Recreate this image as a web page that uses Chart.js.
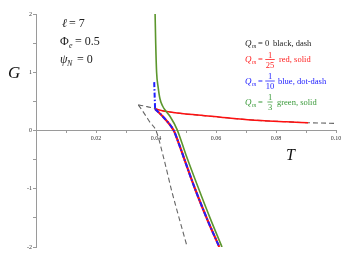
<!DOCTYPE html>
<html>
<head>
<meta charset="utf-8">
<script src="https://cdn.jsdelivr.net/npm/chart.js@4/dist/chart.umd.min.js"></script>
<style>
  html, body { margin: 0; padding: 0; background: #fff; }
  #wrap { width: 345px; height: 255px; }
</style>
</head>
<body>
<div id="wrap"><canvas id="gibbsChart"></canvas></div>
<script>
// Q_m = 0 (black, dash) - two branches meeting at the cusp
var T_black_up = [0.0341, 0.0370, 0.0397, 0.0430, 0.0470, 0.0550, 0.0650, 0.0750, 0.0835, 0.0907, 0.1000];
var G_black_up = [0.44, 0.41, 0.375, 0.33, 0.30, 0.26, 0.21, 0.17, 0.15, 0.134, 0.122];
var T_black_low = [0.0341, 0.0352, 0.0365, 0.0380, 0.0400, 0.0427, 0.0452, 0.0478, 0.0504];
var G_black_low = [0.44, 0.36, 0.26, 0.14, 0.0, -0.5, -1.03, -1.52, -2.0];

// Q_m = 1/25 (red, solid)
var T_red_up = [0.0397, 0.0430, 0.0470, 0.0550, 0.0650, 0.0750, 0.0835, 0.0907];
var G_red_up = [0.37, 0.33, 0.30, 0.26, 0.21, 0.17, 0.15, 0.134];
var T_red_low = [0.0397, 0.0421, 0.0443, 0.0459, 0.0478, 0.0495, 0.0530, 0.0572, 0.0611];
var G_red_low = [0.37, 0.25, 0.12, 0.0, -0.25, -0.5, -1.0, -1.54, -2.0];

// Q_m = 1/10 (blue, dot-dash)
var T_blue_top = [0.0394, 0.0397];
var G_blue_top = [0.83, 0.37];
var T_blue_low = [0.0397, 0.0421, 0.0443, 0.0459, 0.0478, 0.0495, 0.0530, 0.0572, 0.0611];
var G_blue_low = [0.37, 0.25, 0.12, 0.0, -0.25, -0.5, -1.0, -1.54, -2.0];

// Q_m = 1/3 (green, solid)
var T_green = [0.0397, 0.0399, 0.0402, 0.0407, 0.0413, 0.0422, 0.0432, 0.0447, 0.0470, 0.0500, 0.0540, 0.0580, 0.0620];
var G_green = [2.0, 1.5, 1.0, 0.75, 0.55, 0.42, 0.34, 0.24, 0.02, -0.42, -0.97, -1.5, -2.0];

function pts(xs, ys) {
  return xs.map(function (x, i) { return { x: x, y: ys[i] }; });
}

function line(data, color, width, dash, smooth) {
  return {
    data: data,
    showLine: true,
    borderColor: color,
    borderWidth: width,
    borderDash: dash,
    pointRadius: 0,
    cubicInterpolationMode: smooth ? 'monotone' : 'default',
    tension: 0,
    fill: false
  };
}

// draw a row of text pieces: [text, x, y, font, color]
function put(ctx, pieces) {
  pieces.forEach(function (p) {
    ctx.font = p[3];
    ctx.fillStyle = p[4];
    ctx.fillText(p[0], p[1], p[2]);
  });
}

function frac(ctx, num, den, cx, yNum, yBar, yDen, color) {
  ctx.font = '8.5px "Liberation Serif"';
  ctx.fillStyle = color;
  ctx.textAlign = 'center';
  ctx.fillText(num, cx, yNum);
  ctx.fillText(den, cx, yDen);
  ctx.textAlign = 'left';
  var w = Math.max(ctx.measureText(num).width, ctx.measureText(den).width) + 1;
  ctx.strokeStyle = color;
  ctx.lineWidth = 0.8;
  ctx.beginPath();
  ctx.moveTo(cx - w / 2, yBar);
  ctx.lineTo(cx + w / 2, yBar);
  ctx.stroke();
}

var annotate = {
  id: 'annotate',
  afterDraw: function (chart) {
    var ctx = chart.ctx;
    ctx.save();
    ctx.textAlign = 'left';
    ctx.textBaseline = 'alphabetic';
    var f12 = '12px "Liberation Serif"';
    var i12 = 'italic 12px "Liberation Serif"';
    var i8 = 'italic 8px "Liberation Serif"';
    var k = '#222';

    // parameters
    put(ctx, [
      ['\u2113', 62, 27, i12, k], ['= 7', 69, 27, f12, k],
      ['\u03A6', 60, 45, f12, k], ['e', 69, 48, i8, k], ['= 0.5', 75, 45, f12, k],
      ['\u03C8', 60, 63, i12, k], ['N', 67, 66, i8, k], ['= 0', 77, 63, f12, k]
    ]);

    // axis titles
    put(ctx, [
      ['G', 8, 78, 'italic 17px "Liberation Serif"', '#111'],
      ['T', 286, 160, 'italic 16px "Liberation Serif"', '#111']
    ]);

    // legend
    var q = 'italic 9px "Liberation Serif"';
    var sub = 'italic 6px "Liberation Serif"';
    var t = '8.5px "Liberation Serif"';
    var cols = ['#222222', '#ff2020', '#2020ff', '#3a9a3a'];
    put(ctx, [
      ['Q', 245, 46, q, cols[0]], ['m', 252, 48, sub, cols[0]],
      ['= 0', 258, 46, t, cols[0]], ['black, dash', 273, 46, t, cols[0]],
      ['Q', 245, 62, q, cols[1]], ['m', 252, 64, sub, cols[1]],
      ['=', 258, 62, t, cols[1]], ['red, solid', 279, 62, t, cols[1]],
      ['Q', 245, 83.5, q, cols[2]], ['m', 252, 85.5, sub, cols[2]],
      ['=', 258, 83.5, t, cols[2]], ['blue, dot-dash', 278, 83.5, t, cols[2]],
      ['Q', 245, 104.5, q, cols[3]], ['m', 252, 106.5, sub, cols[3]],
      ['=', 258, 104.5, t, cols[3]], ['green, solid', 277, 104.5, t, cols[3]]
    ]);
    frac(ctx, '1', '25', 270, 57.5, 59.5, 67.5, cols[1]);
    frac(ctx, '1', '10', 270, 79, 81, 89, cols[2]);
    frac(ctx, '1', '3', 270, 100, 102, 110, cols[3]);
    ctx.restore();
  }
};

var axisGray = '#9a9a9a';
var tickFont = { family: 'Liberation Serif', size: 6 };

var gibbsChart = new Chart(document.getElementById('gibbsChart'), {
  type: 'scatter',
  data: {
    datasets: [
      line(pts(T_blue_top, G_blue_top), '#1f1fff', 2, [5, 2, 1.5, 2], false),
      line(pts(T_blue_low, G_blue_low), '#1f1fff', 2, [5, 2, 1.5, 2], true),
      line(pts(T_green, G_green), '#5b962c', 1.6, [], true),
      line(pts(T_red_up, G_red_up), '#ff1010', 1.5, [], true),
      line(pts(T_red_low, G_red_low), '#ff1010', 2.2, [], true),
      line(pts(T_black_up, G_black_up), '#666666', 1.1, [5, 3], true),
      line(pts(T_black_low, G_black_low), '#666666', 1.1, [5, 3], true)
    ]
  },
  options: {
    responsive: true,
    maintainAspectRatio: false,
    animation: false,
    layout: { padding: { left: 0, right: 9, top: 14, bottom: 8 } },
    plugins: { legend: { display: false }, tooltip: { enabled: false } },
    scales: {
      x: {
        type: 'linear',
        min: 0,
        max: 0.1,
        position: { y: 0 },
        afterFit: function (s) { s.height = 0; },
        border: { color: axisGray, width: 1 },
        grid: { drawOnChartArea: false, tickLength: 2, color: axisGray },
        ticks: {
          stepSize: 0.01,
          autoSkip: false,
          maxRotation: 0,
          padding: 2,
          color: '#333',
          font: tickFont,
          callback: function (v) {
            var n = Math.round(v * 100);
            if (n === 0 || n % 2 !== 0) return '';
            return (n / 100).toFixed(2);
          }
        }
      },
      y: {
        type: 'linear',
        min: -2,
        max: 2,
        position: 'left',
        afterFit: function (s) { s.width = 36; },
        border: { color: axisGray, width: 1 },
        grid: { drawOnChartArea: false, tickLength: 3, color: axisGray },
        ticks: {
          stepSize: 0.5,
          autoSkip: false,
          padding: 1,
          color: '#333',
          font: tickFont,
          callback: function (v) {
            return Number.isInteger(v) ? String(v) : '';
          }
        }
      }
    }
  },
  plugins: [annotate]
});
</script>
</body>
</html>
